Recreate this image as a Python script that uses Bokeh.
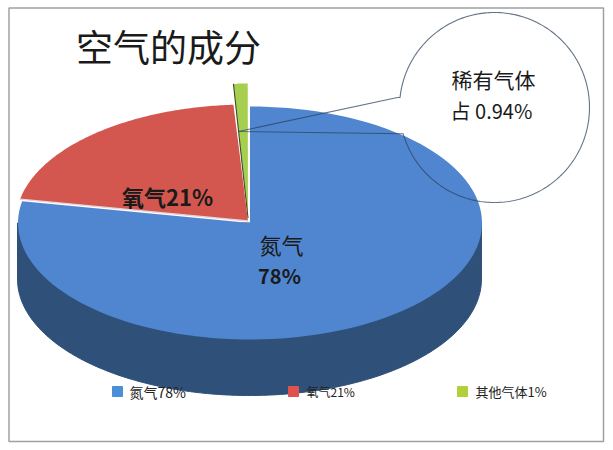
import numpy as np
from bokeh.plotting import figure
from bokeh.embed import file_html
from bokeh.resources import INLINE
from bokeh.core.properties import value

title_text = "空气的成分"
names = ["氮气", "氧气", "其他气体"]
shares = [78, 21, 1]
colors = ["#4f86cf", "#d3574e", "#a6cf50"]
legend_colors = ["#4a90d6", "#de534f", "#b4cf3c"]
legend_labels = ["氮气78%", "氧气21%", "其他气体1%"]
callout_lines = ["稀有气体", "占 0.94%"]

W, H = 613, 450
CX, CY, RX, RY, DEPTH = 249.0, 222.5, 232.0, 116.5, 56.0
WALL = "#2f5079"
CJK = value("Noto Sans CJK SC")

p = figure(width=W, height=H, x_range=(0, W), y_range=(H, 0),
           toolbar_location=None, output_backend="svg", min_border=0,
           outline_line_color=None, background_fill_color="#ffffff",
           border_fill_color="#ffffff")
p.axis.visible = False
p.grid.visible = False


def sector(a0, a1, dx=0.0, dy=0.0):
    t = np.radians(np.linspace(a0, a1, 120) * 3.6)
    xs = CX + dx + RX * np.sin(t)
    ys = CY + dy - RY * np.cos(t)
    return [CX + dx, *xs], [CY + dy, *ys]


p.quad(left=8.5, right=603, top=7.5, bottom=441, fill_color="#ffffff",
       line_color="#a0a0a0", line_width=1.5)

t = np.radians(np.linspace(-180, 0, 200))
wall_x = np.concatenate([[CX - RX], CX + RX * np.cos(t), [CX + RX]])
wall_y = np.concatenate([[CY], CY - RY * np.sin(t) + DEPTH, [CY]])
p.patch(wall_x, wall_y, fill_color=WALL, line_color=WALL)

end_blue = shares[0]
end_red = end_blue + shares[1]
end_green = end_red + shares[2]

# small slice: its outer arc is lifted, its tip stays near the pie centre
gx, gy = sector(end_red, end_green - 0.02, dx=-1.5, dy=-23)
gy[0] = CY - 5
p.patch(gx, gy, fill_color=colors[2], line_color=None)
p.line([gx[0], gx[1]], [gy[0], gy[1]], line_color="#3b4a2a", line_width=1.1)

bx, by = sector(0, end_blue, dx=0.5, dy=0)
p.patch(bx, by, fill_color=colors[0], line_color=None)
rx_, ry_ = sector(end_blue, end_red, dx=-1.5, dy=-2)
p.patch(rx_, ry_, fill_color=colors[1], line_color=None)
p.line([rx_[0], rx_[1]], [ry_[0], ry_[1]], line_color="#e6d3dc", line_width=1.4)

a = np.radians(np.linspace(186, 524, 280))
cx_, cy_, r_ = 494.0, 107.0, 95.0
call_x = [238, 397, *(cx_ + r_ * np.cos(a)), 238]
call_y = [131, 97, *(cy_ + r_ * np.sin(a)), 131]
p.line(call_x, call_y, line_color="#2f4460", line_alpha=0.75, line_width=1.1)

p.text([168], [45], text=[title_text], text_font=CJK, text_font_size="37px",
       text_color="#1a1a1a", text_align="center", text_baseline="middle")
p.text([493], [78], text=[callout_lines[0]], text_font=CJK, text_font_size="21px",
       text_color="#1a1a1a", text_align="center", text_baseline="middle")
p.text([491], [110], text=[callout_lines[1]], text_font=CJK, text_font_size="20px",
       text_color="#1a1a1a", text_align="center", text_baseline="middle")
p.text([167], [195], text=[names[1] + f"{shares[1]}%"], text_font=CJK, text_font_size="22px",
       text_font_style="bold", text_color="#1a1a1a", text_align="center", text_baseline="middle")
p.text([281], [243], text=[names[0]], text_font=CJK, text_font_size="22px",
       text_color="#1a1a1a", text_align="center", text_baseline="middle")
p.text([279], [275], text=[f"{shares[0]}%"], text_font=CJK, text_font_size="20px",
       text_font_style="bold", text_color="#1a1a1a", text_align="center", text_baseline="middle")

lx = [117, 293, 462]
ltx = [129, 306, 475]
lsize = ["14px", "12px", "13px"]
p.scatter(lx, [391] * 3, marker="square", size=10, color=legend_colors)
for x, label, size in zip(ltx, legend_labels, lsize):
    p.text([x], [391], text=[label], text_font=CJK, text_font_size=size,
           text_color="#222222", text_align="left", text_baseline="middle")

open("out.html", "w").write(file_html(p, INLINE))
